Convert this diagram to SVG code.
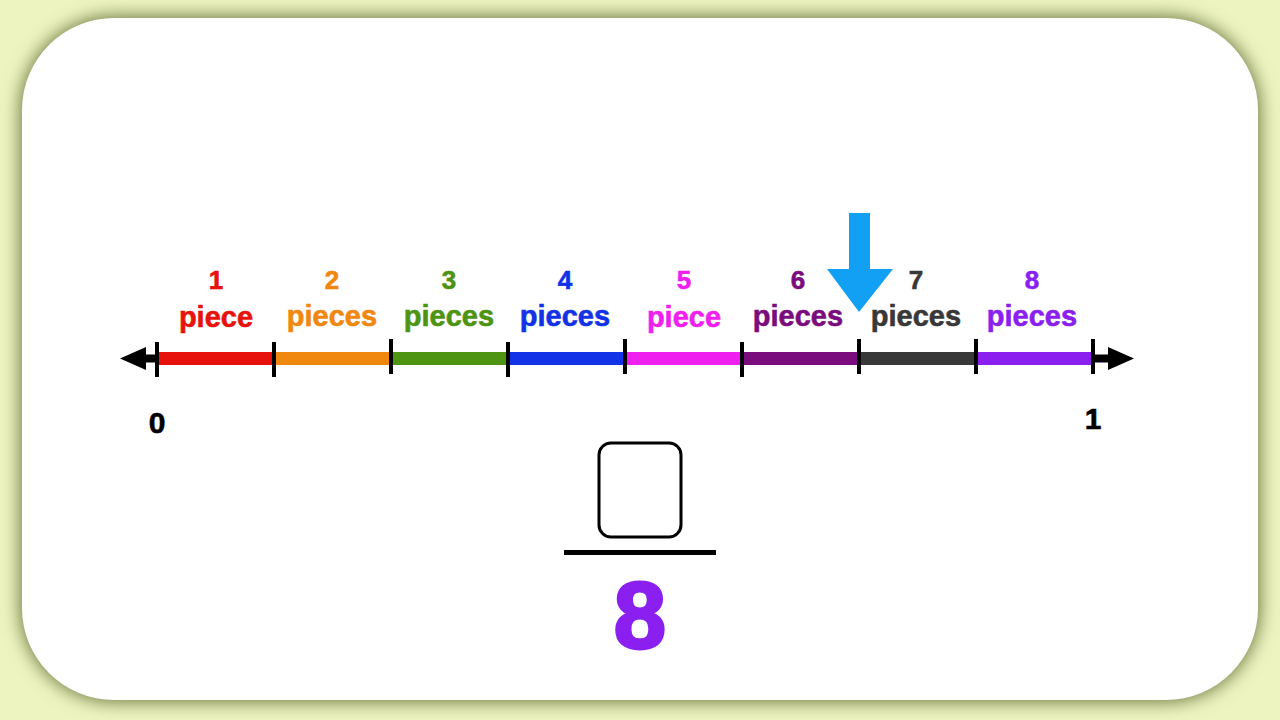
<svg xmlns="http://www.w3.org/2000/svg" width="1280" height="720" viewBox="0 0 1280 720">
<defs>
<filter id="shadow" x="-10%" y="-10%" width="120%" height="120%">
<feGaussianBlur stdDeviation="9"/>
</filter>
</defs>
<style>
.lbl{font-family:"Liberation Sans",Arial,sans-serif;font-weight:bold;text-anchor:middle;stroke-width:0.6}
.num{font-size:26px}
.pc{font-size:29px}
.tick{stroke:#000;stroke-width:4}
.seg{stroke-width:13}
.end{font-family:"Liberation Sans",Arial,sans-serif;font-weight:bold;font-size:30px;text-anchor:middle;fill:#000;stroke:#000;stroke-width:0.6}
</style>
<rect x="0" y="0" width="1280" height="720" fill="#eef4c0"/>
<rect x="20" y="16" width="1240" height="686" rx="95" ry="95" fill="#6c7840" filter="url(#shadow)"/>
<rect x="22" y="18" width="1236" height="682" rx="92" ry="92" fill="#ffffff"/>

<g id="connectors">
<g id="axis">
<line x1="140" y1="358.5" x2="157" y2="358.5" stroke="#000" stroke-width="8"/>
<polygon points="120,358.5 146,347 146,370" fill="#000"/>
<line x1="1093" y1="358.5" x2="1112" y2="358.5" stroke="#000" stroke-width="8"/>
<polygon points="1134,358.5 1108,347 1108,370" fill="#000"/>
<line class="seg" x1="157" y1="358.5" x2="274" y2="358.5" stroke="#e8120c"/>
<line class="seg" x1="274" y1="358.5" x2="391" y2="358.5" stroke="#f0870f"/>
<line class="seg" x1="391" y1="358.5" x2="508" y2="358.5" stroke="#4c9412"/>
<line class="seg" x1="508" y1="358.5" x2="625" y2="358.5" stroke="#1232e8"/>
<line class="seg" x1="625" y1="358.5" x2="742" y2="358.5" stroke="#ef1fef"/>
<line class="seg" x1="742" y1="358.5" x2="859" y2="358.5" stroke="#7b0c7d"/>
<line class="seg" x1="859" y1="358.5" x2="976" y2="358.5" stroke="#383838"/>
<line class="seg" x1="976" y1="358.5" x2="1093" y2="358.5" stroke="#8a1ff0"/>
<line class="tick" x1="157" y1="342" x2="157" y2="377"/>
<line class="tick" x1="274" y1="342" x2="274" y2="377"/>
<line class="tick" x1="391" y1="339" x2="391" y2="374"/>
<line class="tick" x1="508" y1="342" x2="508" y2="377"/>
<line class="tick" x1="625" y1="339" x2="625" y2="374"/>
<line class="tick" x1="742" y1="342" x2="742" y2="377"/>
<line class="tick" x1="859" y1="339" x2="859" y2="374"/>
<line class="tick" x1="976" y1="339" x2="976" y2="374"/>
<line class="tick" x1="1093" y1="339" x2="1093" y2="374"/>
</g>
<polygon id="pointer" points="849,213 870,213 870,269 893,269 859,312 827,269 849,269" fill="#12a0f5"/>
</g>

<g id="label1" class="lbl" fill="#e8120c" stroke="#e8120c"><text class="num" x="216" y="289">1</text><text class="pc" x="216" y="327">piece</text></g>
<g id="label2" class="lbl" fill="#f0870f" stroke="#f0870f"><text class="num" x="332" y="289">2</text><text class="pc" x="332" y="326">pieces</text></g>
<g id="label3" class="lbl" fill="#4c9412" stroke="#4c9412"><text class="num" x="449" y="289">3</text><text class="pc" x="449" y="326">pieces</text></g>
<g id="label4" class="lbl" fill="#1232e8" stroke="#1232e8"><text class="num" x="565" y="289">4</text><text class="pc" x="565" y="326">pieces</text></g>
<g id="label5" class="lbl" fill="#ef1fef" stroke="#ef1fef"><text class="num" x="684" y="289">5</text><text class="pc" x="684" y="327">piece</text></g>
<g id="label6" class="lbl" fill="#7b0c7d" stroke="#7b0c7d"><text class="num" x="798" y="289">6</text><text class="pc" x="798" y="326">pieces</text></g>
<g id="label7" class="lbl" fill="#383838" stroke="#383838"><text class="num" x="916" y="289">7</text><text class="pc" x="916" y="326">pieces</text></g>
<g id="label8" class="lbl" fill="#8a1ff0" stroke="#8a1ff0"><text class="num" x="1032" y="289">8</text><text class="pc" x="1032" y="326">pieces</text></g>

<g id="zero"><text class="end" x="157" y="433">0</text></g>
<g id="one"><text class="end" x="1093" y="429">1</text></g>

<g id="fraction">
<rect x="599" y="443" width="82" height="94" rx="12" ry="12" fill="none" stroke="#000" stroke-width="3"/>
<line x1="564" y1="552.5" x2="716" y2="552.5" stroke="#000" stroke-width="5"/>
<text x="640" y="648" font-family="'Liberation Sans',Arial,sans-serif" font-weight="bold" font-size="94" text-anchor="middle" fill="#8a1ff0" stroke="#8a1ff0" stroke-width="3" stroke-linejoin="round">8</text>
</g>
</svg>
